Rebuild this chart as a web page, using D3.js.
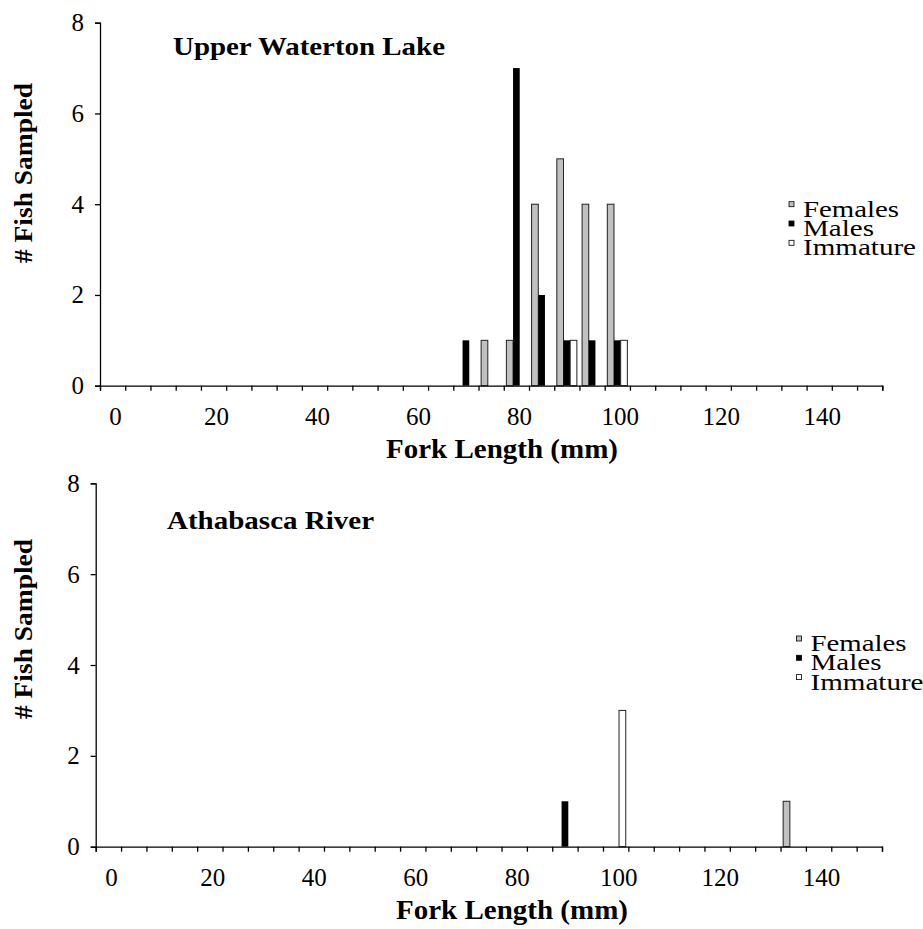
<!DOCTYPE html>
<html>
<head>
<meta charset="utf-8">
<script src="https://cdn.jsdelivr.net/npm/d3@7"></script>
<style>
  body { margin: 0; background: #fff; }
  svg { display: block; font-family: "Liberation Serif", "Times New Roman", serif; }
</style>
</head>
<body>
<svg id="chart" width="923" height="929"></svg>
<script>
// fork length classes (mm), 5 mm bins
const lengths = d3.range(0, 151, 5);
const tickLabels = [0, 20, 40, 60, 80, 100, 120, 140];
const seriesNames = ['Females', 'Males', 'Immature'];
const yTicks = [0, 2, 4, 6, 8];

// counts per length class, only non-zero classes listed
const watertonFemales = [{len: 75, n: 1}, {len: 80, n: 1}, {len: 85, n: 4}, {len: 90, n: 5}, {len: 95, n: 4}, {len: 100, n: 4}];
const watertonMales = [{len: 70, n: 1}, {len: 80, n: 7}, {len: 85, n: 2}, {len: 90, n: 1}, {len: 95, n: 1}, {len: 100, n: 1}];
const watertonImmature = [{len: 90, n: 1}, {len: 100, n: 1}];

const athabascaFemales = [{len: 135, n: 1}];
const athabascaMales = [{len: 90, n: 1}];
const athabascaImmature = [{len: 100, n: 3}];

const fills = {Females: '#c0c0c0', Males: '#000000', Immature: '#ffffff'};
// widths of the legend labels as they appear in the original
const legendWidths = {Females: 96, Males: 71, Immature: 113};

const svg = d3.select('#chart');
const serif = '"Liberation Serif", "Times New Roman", serif';

function drawPanel(opts) {
    const {left, right, top, bottom, title, titleWidth, series, titlePos, xTitlePos, yTitleY, legendPos} = opts;

    const x0 = d3.scaleBand().domain(lengths).range([left, right]);
    const pad = x0.bandwidth() * 0.103;
    const x1 = d3.scaleBand().domain(seriesNames).range([pad, x0.bandwidth() - pad]);
    const y = d3.scaleLinear().domain([0, 8]).range([bottom, top]);

    const g = svg.append('g');

    // bars
    seriesNames.forEach((name, si) => {
        g.append('g')
            .selectAll('rect')
            .data(series[si])
            .enter()
            .append('rect')
            .attr('x', d => x0(d.len) + x1(name))
            .attr('y', d => y(d.n))
            .attr('width', x1.bandwidth())
            .attr('height', d => y(0) - y(d.n))
            .attr('fill', fills[name])
            .attr('stroke', name === 'Males' ? 'none' : '#222')
            .attr('stroke-width', 1);
    });

    // y axis
    const yAxis = g.append('g')
        .attr('transform', `translate(${left},0)`)
        .call(d3.axisLeft(y).tickValues(yTicks).tickSize(5).tickPadding(11));
    yAxis.select('.domain').attr('stroke', '#000').attr('stroke-width', 1.3);
    yAxis.selectAll('.tick line').attr('stroke', '#000').attr('stroke-width', 1.3);
    yAxis.selectAll('.tick text')
        .attr('font-size', 25).attr('fill', '#000')
        .attr('font-family', serif);

    // x axis: tick marks on class boundaries
    const edge = d3.scaleLinear().domain([0, lengths.length]).range([left, right]);
    const xAxis = g.append('g')
        .attr('transform', `translate(0,${bottom})`)
        .call(d3.axisBottom(edge).tickValues(d3.range(0, lengths.length + 1)).tickSize(5).tickFormat(''));
    xAxis.select('.domain').attr('stroke', '#000').attr('stroke-width', 1.3);
    xAxis.selectAll('.tick line').attr('stroke', '#000').attr('stroke-width', 1.3);

    // x labels centred on classes
    const xLab = g.append('g')
        .attr('transform', `translate(3,${bottom})`)
        .call(d3.axisBottom(x0).tickValues(tickLabels).tickSize(0).tickPadding(22));
    xLab.select('.domain').remove();
    xLab.selectAll('.tick text')
        .attr('font-size', 25).attr('fill', '#000')
        .attr('font-family', serif);

    // titles
    g.append('text')
        .attr('x', titlePos[0]).attr('y', titlePos[1])
        .attr('font-size', 26).attr('font-weight', 'bold')
        .attr('textLength', titleWidth).attr('lengthAdjust', 'spacingAndGlyphs')
        .text(title);

    g.append('text')
        .attr('x', xTitlePos[0] - 116).attr('y', xTitlePos[1])
        .attr('font-size', 27).attr('font-weight', 'bold')
        .attr('textLength', 232).attr('lengthAdjust', 'spacingAndGlyphs')
        .text('Fork Length (mm)');

    g.append('text')
        .attr('transform', `translate(32,${yTitleY + 90}) rotate(-90)`)
        .attr('font-size', 26).attr('font-weight', 'bold')
        .attr('textLength', 180).attr('lengthAdjust', 'spacingAndGlyphs')
        .text('# Fish Sampled');

    // legend
    const leg = g.append('g').attr('transform', `translate(${legendPos[0]},${legendPos[1]})`);
    seriesNames.forEach((name, i) => {
        leg.append('rect')
            .attr('x', 0).attr('y', i * 19.3 - 15)
            .attr('width', 5).attr('height', 5)
            .attr('fill', fills[name]).attr('stroke', '#000').attr('stroke-width', 0.8);
        leg.append('text')
            .attr('x', 14).attr('y', i * 19.3)
            .attr('font-size', 24)
            .attr('textLength', legendWidths[name]).attr('lengthAdjust', 'spacingAndGlyphs')
            .text(name);
    });
}

drawPanel({
    left: 100, right: 882.3, top: 22.7, bottom: 385.7,
    title: 'Upper Waterton Lake', titleWidth: 272,
    series: [watertonFemales, watertonMales, watertonImmature],
    titlePos: [173, 55], xTitlePos: [502, 458], yTitleY: 173,
    legendPos: [789, 216.7]
});

drawPanel({
    left: 95.7, right: 882, top: 483.3, bottom: 846.7,
    title: 'Athabasca River', titleWidth: 207,
    series: [athabascaFemales, athabascaMales, athabascaImmature],
    titlePos: [167, 529], xTitlePos: [512, 919], yTitleY: 629,
    legendPos: [796.5, 651]
});
</script>
</body>
</html>
